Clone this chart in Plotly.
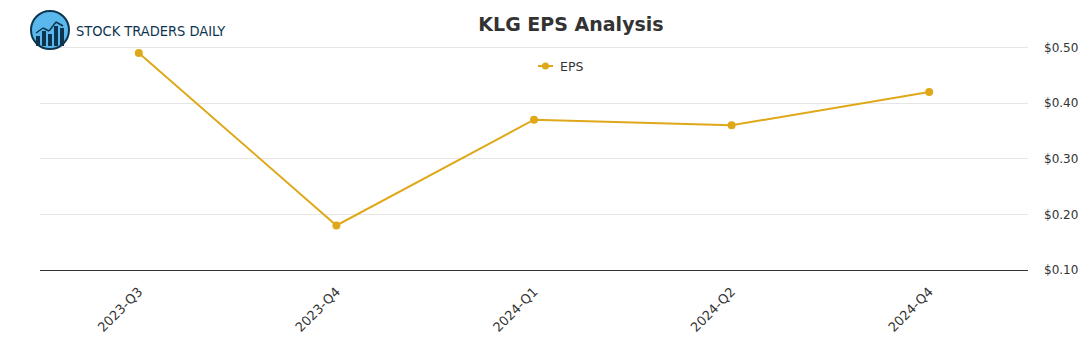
import plotly.graph_objects as go

quarters = ["2023-Q3", "2023-Q4", "2024-Q1", "2024-Q2", "2024-Q4"]
eps = [0.49, 0.18, 0.37, 0.36, 0.42]
y_ticks = [0.1, 0.2, 0.3, 0.4, 0.5]
y_tick_labels = ["$0.10", "$0.20", "$0.30", "$0.40", "$0.50"]

W, H = 1091, 350
ML, MR, MT, MB = 40, 63, 46, 80
PW, PH = W - ML - MR, H - MT - MB
GOLD = "#DFA818"
NAVY = "#0d3550"


def px(x):
    return (x - ML) / PW


def py(y):
    return (H - MB - y) / PH


fig = go.Figure()
fig.add_trace(go.Scatter(
    x=quarters, y=eps, name="EPS", mode="lines+markers",
    line=dict(color=GOLD, width=2),
    marker=dict(color=GOLD, size=8),
    showlegend=False,
))

# brand badge: round emblem with bars and a rising trend line
shapes = [
    dict(type="circle", xref="paper", yref="paper",
         x0=px(31), x1=px(69), y0=py(49), y1=py(11),
         line=dict(color=NAVY, width=2), fillcolor="#5ab8ec", layer="above"),
]
for bx, top in zip([36, 42, 48, 54, 60], [36, 31, 34, 26, 28]):
    shapes.append(dict(type="rect", xref="paper", yref="paper",
                       x0=px(bx), x1=px(bx + 4), y0=py(46), y1=py(top),
                       line=dict(width=0), fillcolor=NAVY, layer="above"))
trend = [(36, 33), (43, 28), (49, 31), (56, 22), (63, 26)]
for (xa, ya), (xb, yb) in zip(trend[:-1], trend[1:]):
    shapes.append(dict(type="line", xref="paper", yref="paper",
                       x0=px(xa), x1=px(xb), y0=py(ya), y1=py(yb),
                       line=dict(color=NAVY, width=1.5), layer="above"))

# compact legend key for the EPS series
shapes.append(dict(type="line", xref="paper", yref="paper",
                   x0=px(538), x1=px(553), y0=py(66), y1=py(66),
                   line=dict(color=GOLD, width=2), layer="above"))
shapes.append(dict(type="circle", xref="paper", yref="paper",
                   x0=px(542), x1=px(549), y0=py(69.5), y1=py(62.5),
                   line=dict(color=GOLD, width=0), fillcolor=GOLD, layer="above"))

fig.update_layout(
    width=W, height=H,
    margin=dict(l=ML, r=MR, t=MT, b=MB),
    paper_bgcolor="white", plot_bgcolor="white",
    title=dict(text="<b>KLG EPS Analysis</b>", x=px(571), xanchor="center",
               xref="paper", y=1 - 24 / H, yanchor="middle",
               font=dict(family="DejaVu Sans", size=19, color="#333333")),
    showlegend=False,
    xaxis=dict(type="category", range=[-0.5, 4.5], tickangle=-45,
               showgrid=False, showline=True, linecolor="#333333", linewidth=1,
               ticks="", ticklabelstandoff=8,
               tickfont=dict(family="DejaVu Sans", size=13, color="#333333")),
    yaxis=dict(side="right", range=[0.1, 0.5025], tickvals=y_ticks, ticktext=y_tick_labels,
               showgrid=True, gridcolor="#e6e6e6", zeroline=False,
               showline=False, ticks="", ticklabelstandoff=15,
               tickfont=dict(family="DejaVu Sans", size=12, color="#333333")),
    shapes=shapes,
    annotations=[
        dict(text="STOCK TRADERS DAILY", xref="paper", yref="paper",
             x=px(74), y=py(31), xanchor="left", yanchor="middle", showarrow=False,
             font=dict(family="DejaVu Sans Condensed, Liberation Sans Narrow, Roboto",
                       size=14.5, color=NAVY)),
        dict(text="EPS", xref="paper", yref="paper",
             x=px(558), y=py(66), xanchor="left", yanchor="middle", showarrow=False,
             font=dict(family="DejaVu Sans", size=12.5, color="#333333")),
    ],
)

fig.write_html("out.html")
